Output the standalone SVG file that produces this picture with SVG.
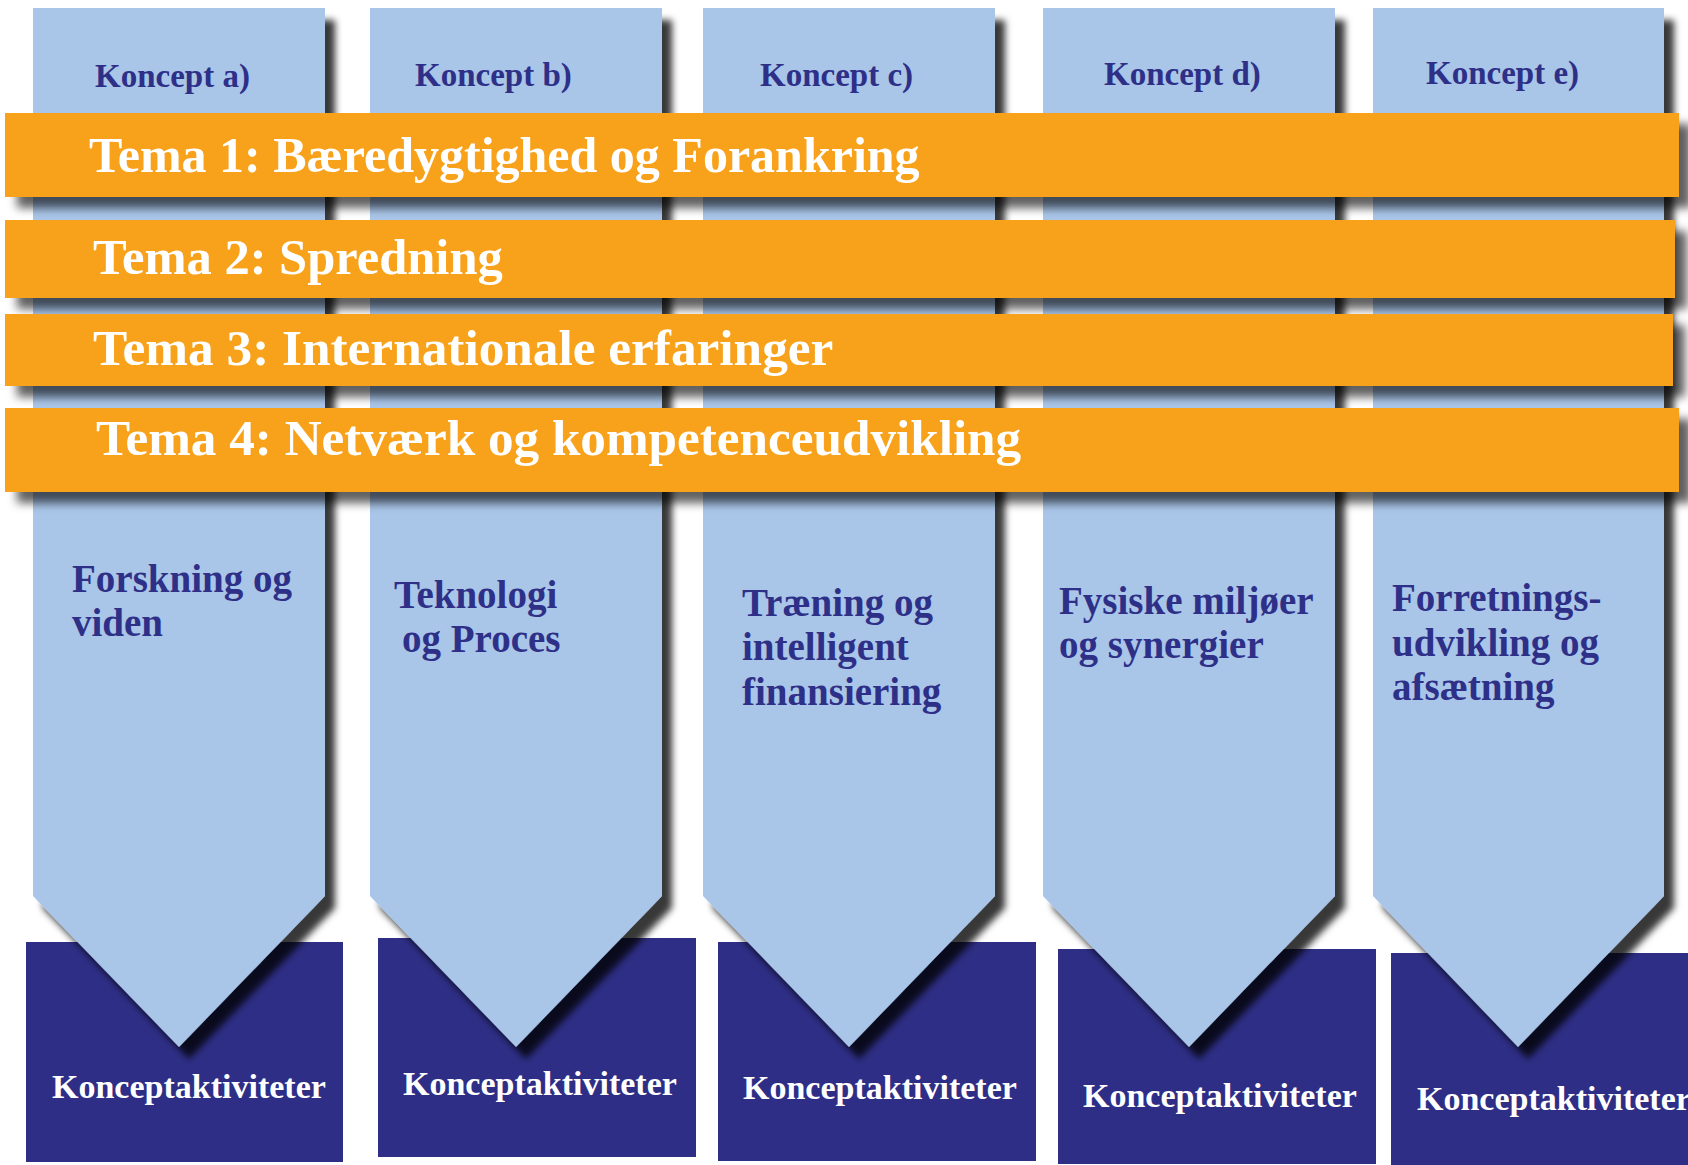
<svg xmlns="http://www.w3.org/2000/svg" width="1688" height="1165" viewBox="0 0 1688 1165">
<style>
.col{fill:#A9C5E8;filter:url(#colShadow)}
.box{fill:#2E2E86}
.band{fill:#F8A21F;filter:url(#bandShadow)}
text{font-family:"Liberation Serif","DejaVu Serif",serif;font-weight:bold}
.kl{fill:#2E3088;font-size:33px}
.body{fill:#2E3088;font-size:39px}
.act{fill:#FFFFFF;font-size:34px}
.tema{fill:#FFFFFF;font-size:50.5px}
</style>
<defs>
<filter id="colShadow" x="-10%" y="-5%" width="130%" height="115%">
<feGaussianBlur in="SourceAlpha" stdDeviation="3.5"/>
<feOffset dx="10" dy="12" result="b"/>
<feFlood flood-color="#000" flood-opacity="0.78"/>
<feComposite in2="b" operator="in"/>
<feMerge><feMergeNode/><feMergeNode in="SourceGraphic"/></feMerge>
</filter>
<filter id="bandShadow" x="-5%" y="-30%" width="110%" height="180%">
<feGaussianBlur in="SourceAlpha" stdDeviation="5"/>
<feOffset dx="12" dy="11" result="b"/>
<feFlood flood-color="#000" flood-opacity="0.62"/>
<feComposite in2="b" operator="in"/>
<feMerge><feMergeNode/><feMergeNode in="SourceGraphic"/></feMerge>
</filter>
</defs>
<rect width="1688" height="1165" fill="#FFFFFF"/>

<g id="concept-a">
<rect class="box" x="26" y="942" width="317" height="220"/>
<polygon class="col" points="33,8 325,8 325,896 179,1047 33,896"/>
<text class="kl" x="95" y="87">Koncept a)</text>
<text class="body" x="72" y="592">Forskning og</text>
<text class="body" x="72" y="636">viden</text>
<text class="act" x="52" y="1098">Konceptaktiviteter</text>
</g>

<g id="concept-b">
<rect class="box" x="378" y="938" width="318" height="219"/>
<polygon class="col" points="370,8 662,8 662,896 516,1047 370,896"/>
<text class="kl" x="415" y="86">Koncept b)</text>
<text class="body" x="394" y="608">Teknologi</text>
<text class="body" x="402" y="652">og Proces</text>
<text class="act" x="403" y="1095">Konceptaktiviteter</text>
</g>

<g id="concept-c">
<rect class="box" x="718" y="942" width="318" height="219"/>
<polygon class="col" points="703,8 995,8 995,896 849,1047 703,896"/>
<text class="kl" x="760" y="86">Koncept c)</text>
<text class="body" x="742" y="616">Træning og</text>
<text class="body" x="742" y="660">intelligent</text>
<text class="body" x="742" y="705">finansiering</text>
<text class="act" x="743" y="1099">Konceptaktiviteter</text>
</g>

<g id="concept-d">
<rect class="box" x="1058" y="949" width="318" height="215"/>
<polygon class="col" points="1043,8 1335,8 1335,896 1189,1047 1043,896"/>
<text class="kl" x="1104" y="85">Koncept d)</text>
<text class="body" x="1059" y="614">Fysiske miljøer</text>
<text class="body" x="1059" y="658">og synergier</text>
<text class="act" x="1083" y="1107">Konceptaktiviteter</text>
</g>

<g id="concept-e">
<rect class="box" x="1391" y="953" width="300" height="215"/>
<polygon class="col" points="1373,8 1664,8 1664,896 1518,1047 1373,896"/>
<text class="kl" x="1426" y="84">Koncept e)</text>
<text class="body" x="1392" y="611">Forretnings-</text>
<text class="body" x="1392" y="656">udvikling og</text>
<text class="body" x="1392" y="700">afsætning</text>
<text class="act" x="1417" y="1110">Konceptaktiviteter</text>
</g>

<g id="tema-1">
<rect class="band" x="5" y="113" width="1674" height="84"/>
<text class="tema" x="89" y="172" style="font-size:50px">Tema 1: Bæredygtighed og Forankring</text>
</g>
<g id="tema-2">
<rect class="band" x="5" y="220" width="1670" height="78"/>
<text class="tema" x="93" y="274">Tema 2: Spredning</text>
</g>
<g id="tema-3">
<rect class="band" x="5" y="314" width="1668" height="72"/>
<text class="tema" x="93" y="365" style="font-size:51.3px">Tema 3: Internationale erfaringer</text>
</g>
<g id="tema-4">
<rect class="band" x="5" y="408" width="1674" height="84"/>
<text class="tema" x="96" y="455" style="font-size:51.2px">Tema 4: Netværk og kompetenceudvikling</text>
</g>
</svg>
